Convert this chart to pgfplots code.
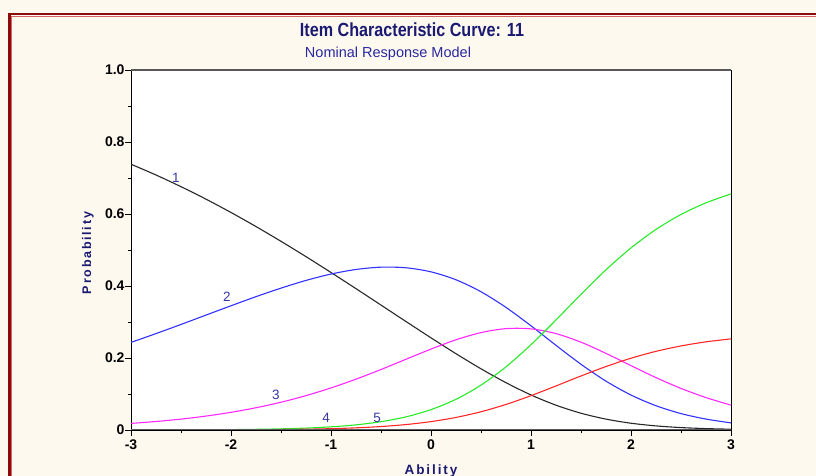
\documentclass[border=0pt]{standalone}
\usepackage{fontspec}
\setmainfont{Liberation Sans}
\newfontfamily\titlefont[FakeStretch=0.85]{Liberation Sans}
\newfontfamily\spacedfont[LetterSpace=14]{Liberation Sans}
\usepackage{pgfplots}
\usepackage{pgfplotstable}
\pgfplotsset{compat=1.18}
\definecolor{cream}{RGB}{254,249,238}
\definecolor{borderred}{RGB}{140,10,10}
\definecolor{navy}{RGB}{26,26,115}
\definecolor{subnavy}{RGB}{40,40,160}
\definecolor{lblblue}{RGB}{55,55,165}
\definecolor{cblack}{RGB}{40,40,40}
\definecolor{cblue}{RGB}{50,50,255}
\definecolor{cmag}{RGB}{255,40,255}
\definecolor{cgreen}{RGB}{40,235,40}
\definecolor{cred}{RGB}{255,40,40}
\pgfplotstableread{
theta p1 p2 p3 p4 p5
-3    0.7383 0.2433 0.0183 0.0001 0.0001
-2.75 0.7083 0.2678 0.0236 0.0002 0.0001
-2.5  0.6759 0.2932 0.0303 0.0004 0.0002
-2.25 0.6412 0.3192 0.0387 0.0006 0.0003
-2    0.6042 0.3451 0.0491 0.0011 0.0005
-1.75 0.5651 0.3704 0.0618 0.0019 0.0008
-1.5  0.5241 0.3941 0.0772 0.0032 0.0013
-1.25 0.4815 0.4155 0.0955 0.0053 0.0022
-1    0.4375 0.4332 0.1169 0.0088 0.0037
-0.75 0.3926 0.4459 0.1412 0.0143 0.0060
-0.5  0.3470 0.4523 0.1681 0.0231 0.0096
-0.25 0.3013 0.4506 0.1965 0.0365 0.0151
0     0.2560 0.4393 0.2248 0.0566 0.0233
0.25  0.2119 0.4173 0.2506 0.0853 0.0349
0.5   0.1700 0.3840 0.2706 0.1247 0.0507
0.75  0.1314 0.3405 0.2816 0.1755 0.0710
1     0.0973 0.2894 0.2809 0.2370 0.0954
1.25  0.0689 0.2352 0.2678 0.3057 0.1224
1.5   0.0466 0.1825 0.2439 0.3769 0.1501
1.75  0.0302 0.1357 0.2128 0.4450 0.1763
2     0.0188 0.0971 0.1788 0.5058 0.1994
2.25  0.0114 0.0674 0.1455 0.5572 0.2185
2.5   0.0067 0.0456 0.1155 0.5987 0.2335
2.75  0.0039 0.0303 0.0900 0.6310 0.2449
3     0.0022 0.0198 0.0691 0.6558 0.2531
}\icc
\begin{document}
\begin{tikzpicture}[x=1pt,y=1pt]
\useasboundingbox (0,0) rectangle (816,476);
\clip (0,0) rectangle (816,476);
\fill[cream] (0,0) rectangle (816,476);
\draw[borderred, line width=2.7pt] (9.3,-10) -- (9.3,462) -- (830,462);
\draw[red!70!black!60, line width=0.6pt] (11.2,-10) -- (11.2,460.1) -- (830,460.1);
\node[anchor=base, text=navy, font=\titlefont\bfseries\fontsize{19}{19}\selectfont] at (412,439.3) {Item Characteristic Curve: 11};
\node[anchor=base, text=subnavy, font=\fontsize{14.5}{14.5}\selectfont] at (388,418.7) {Nominal Response Model};
\node[anchor=base, rotate=90, text=navy, font=\spacedfont\bfseries\fontsize{12.5}{12.5}\selectfont] at (91,223) {Probability};
\node[anchor=base, text=navy, font=\spacedfont\bfseries\fontsize{13.5}{13.5}\selectfont] at (431,1.5) {Ability};
\begin{axis}[
  at={(131pt,46pt)}, anchor=south west,
  scale only axis, width=600pt, height=360pt,
  xmin=-3, xmax=3, ymin=0, ymax=1,
  xtick={-3,-2,-1,0,1,2,3},
  xticklabels={-3,-2,-1,0,1,2,3},
  minor xtick={-2.5,-1.5,-0.5,0.5,1.5,2.5},
  ytick={0,0.2,0.4,0.6,0.8,1},
  yticklabels={0,0.2,0.4,0.6,0.8,1.0},
  minor ytick={0.1,0.3,0.5,0.7,0.9},
  tick pos=left,
  tick align=outside,
  major tick length=6pt,
  minor tick length=3.5pt,
  axis background/.style={fill=white},
  axis line style={black, line width=0.9pt},
  tick style={black, line width=0.9pt},
  /pgf/number format/assume math mode=true,
  ticklabel style={font=\bfseries\fontsize{14}{14}\selectfont},
  yticklabel style={xshift=3pt},
  xticklabel style={yshift=-0.5pt},
]
\addplot[cblack, line width=1.1pt, smooth] table[x=theta, y=p1] {\icc};
\addplot[cblue, line width=1.1pt, smooth] table[x=theta, y=p2] {\icc};
\addplot[cmag, line width=1.1pt, smooth] table[x=theta, y=p3] {\icc};
\addplot[cgreen, line width=1.1pt, smooth] table[x=theta, y=p4] {\icc};
\addplot[cred, line width=1.1pt, smooth] table[x=theta, y=p5] {\icc};
\draw[black!65, line width=2.6pt] (rel axis cs:0,1) -- (rel axis cs:1,1);
\draw[black!65, line width=2.6pt] (rel axis cs:0,0) -- (rel axis cs:1,0);
\node[text=lblblue, font=\fontsize{13.5}{13.5}\selectfont] at (axis cs:-2.55,0.70) {1};
\node[text=lblblue, font=\fontsize{13.5}{13.5}\selectfont] at (axis cs:-2.04,0.37) {2};
\node[text=lblblue, font=\fontsize{13.5}{13.5}\selectfont] at (axis cs:-1.55,0.097) {3};
\node[text=lblblue, font=\fontsize{13.5}{13.5}\selectfont] at (axis cs:-1.05,0.033) {4};
\node[text=lblblue, font=\fontsize{13.5}{13.5}\selectfont] at (axis cs:-0.54,0.033) {5};
\end{axis}
\end{tikzpicture}
\end{document}
